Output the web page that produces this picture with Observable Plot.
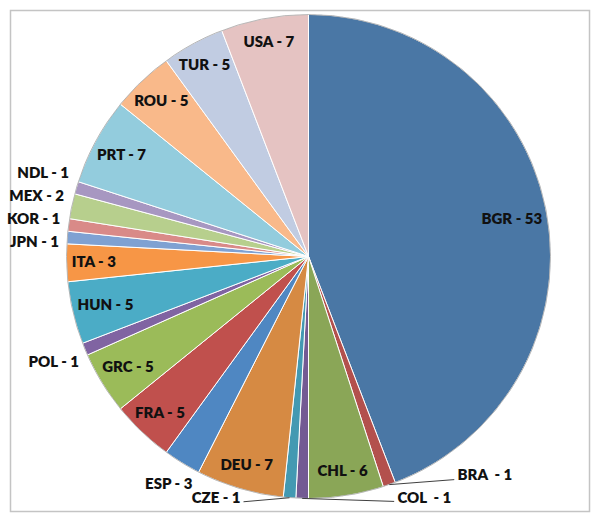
<!DOCTYPE html>
<html><head><meta charset="utf-8">
<script src="https://cdn.jsdelivr.net/npm/d3@7"></script>
<script src="https://cdn.jsdelivr.net/npm/@observablehq/plot@0.6"></script>
<style>body{margin:0;background:#fff}</style>
</head><body><div id="chart"></div>
<script>
// Data (clockwise from 12 o'clock)
const countries = ["BGR","BRA","CHL","COL","CZE","DEU","ESP","FRA","GRC","POL","HUN","ITA","JPN","KOR","MEX","NDL","PRT","ROU","TUR","USA"];
const counts    = [53, 1, 6, 1, 1, 7, 3, 5, 5, 1, 5, 3, 1, 1, 2, 1, 7, 5, 5, 7];
const labels    = ["BGR - 53","BRA  - 1","CHL - 6","COL  - 1","CZE - 1","DEU - 7","ESP - 3","FRA - 5","GRC - 5","POL - 1","HUN - 5","ITA - 3","JPN - 1","KOR - 1","MEX - 2","NDL - 1","PRT - 7","ROU - 5","TUR - 5","USA - 7"];
const placement = ["inside","leader","inside","leader","leader","inside","outside","inside","inside","outside","inside","inside","outside","outside","outside","outside","inside","inside","inside","inside"];
const colors    = ["#4a77a5","#b3504d","#8aa657","#735a93","#4399b2","#d68a43","#4f87c2","#c0504d","#9bbb59","#8064a2","#4bacc6","#f79646","#7fa1d2","#d98a88","#b7cf8d","#a797c1","#93ccdd","#f9b98a","#c1cce2","#e5c3c2"];

// Layout
const W = 600, H = 523, CX = 308, CY = 256, R = 242;
const FS = 15, FF = "Lato", FW = 800;
const ctx = document.createElement("canvas").getContext("2d");
ctx.font = `${FW} ${FS}px ${FF}`;
const leaderOffsets = {
  BRA: {line: [65, -5], text: [68, -9], anchor: "start"},
  COL: {line: [92, 3], text: [95, 0], anchor: "start"},
  CZE: {line: [-46, 4], text: [-49, 0], anchor: "end"}
};

const arcs = d3.pie().sort(null).value(d => d)(counts);
const slices = [];
arcs.forEach((a, i) => {
  const n = Math.max(2, Math.ceil((a.endAngle - a.startAngle) / 0.005));
  slices.push({k: i, x: 0, y: 0, c: colors[i]});
  for (let j = 0; j <= n; j++) {
    const t = a.startAngle + (a.endAngle - a.startAngle) * j / n;
    slices.push({k: i, x: Math.sin(t), y: Math.cos(t), c: colors[i]});
  }
  slices.push({k: i, x: 0, y: 0, c: colors[i]});
});

const pts = [], links = [];
arcs.forEach((a, i) => {
  const m = (a.startAngle + a.endAngle) / 2, s = Math.sin(m), c = Math.cos(m);
  const w = ctx.measureText(labels[i]).width, hw = w / 2, hh = 6;
  let px, py; // pixel offsets from centre, y downward
  if (placement[i] === "inside") {
    const fits = r => {
      for (const sx of [-1, 1]) for (const sy of [-1, 1]) {
        const dx = r * s + sx * hw, dy = -r * c + sy * hh;
        if (Math.hypot(dx, dy) > R - 4) return false;
      }
      return true;
    };
    let r = 0.9 * R;
    while (!fits(r) && r > 0) r -= 1;
    px = r * s; py = -r * c;
  } else if (placement[i] === "outside") {
    const r = R + 8 + Math.abs(s) * hw + Math.abs(c) * hh;
    px = r * s; py = -r * c;
  } else {
    const ex = R * s, ey = -R * c;
    const o = leaderOffsets[countries[i]];
    links.push({x1: ex / R, y1: -ey / R, x2: (ex + o.line[0]) / R, y2: -(ey + o.line[1]) / R});
    const tx = ex + o.text[0];
    px = o.anchor === "start" ? tx + hw : tx - hw;
    py = ey + o.text[1];
  }
  pts.push({i, px, py, outside: placement[i] === "outside"});
});

// spread crowded outside labels vertically (keep their mean)
const GAP = 23;
const outs = pts.filter(p => p.outside).sort((a, b) => a.py - b.py);
let clusters = outs.map(p => [p]);
let merged = true;
while (merged) {
  merged = false;
  for (let k = 0; k < clusters.length - 1; k++) {
    const A = clusters[k], B = clusters[k + 1];
    const lay = cl => { const mean = d3.mean(cl, p => p.py0 ?? p.py); return cl.map((p, j) => mean + (j - (cl.length - 1) / 2) * GAP); };
    A.forEach(p => p.py0 ??= p.py); B.forEach(p => p.py0 ??= p.py);
    const ya = lay(A), yb = lay(B);
    if (yb[0] - ya[ya.length - 1] < GAP) { clusters.splice(k, 2, A.concat(B)); merged = true; break; }
  }
}
clusters.forEach(cl => {
  cl.forEach(p => p.py0 ??= p.py);
  const mean = d3.mean(cl, p => p.py0);
  cl.forEach((p, j) => p.py = mean + (j - (cl.length - 1) / 2) * GAP);
});

const textPts = pts.map(p => ({x: p.px / R, y: -p.py / R, label: labels[p.i]}));

const plot = Plot.plot({
  width: W, height: H,
  marginLeft: 10, marginTop: 10, marginRight: 11, marginBottom: 12,
  x: {domain: [-1, 1], range: [CX - R, CX + R], axis: null},
  y: {domain: [-1, 1], range: [CY + R, CY - R], axis: null},
  color: {type: "identity"},
  marks: [
    Plot.frame({stroke: "#c4c4c4", strokeWidth: 1.5}),
    Plot.line(slices, {x: "x", y: "y", z: "k", fill: "c", stroke: "white", strokeWidth: 1, curve: "linear"}),
    Plot.dot([{x: 0, y: 0}], {x: "x", y: "y", r: R, stroke: "#a8a8a8", strokeWidth: 1, strokeOpacity: 0.8, fill: "none"}),
    Plot.link(links, {x1: "x1", y1: "y1", x2: "x2", y2: "y2", stroke: "#404040", strokeWidth: 1}),
    Plot.text(textPts, {x: "x", y: "y", text: "label", fontSize: FS, fontWeight: FW, fontFamily: FF, fill: "#111", lineAnchor: "middle", textAnchor: "middle"})
  ]
});
document.getElementById("chart").appendChild(plot);
</script>
</body></html>
